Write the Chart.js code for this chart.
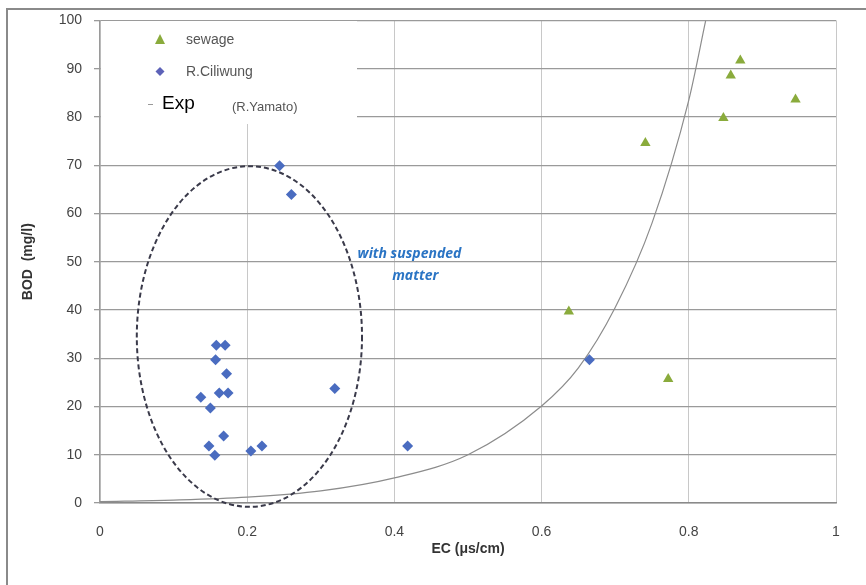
<!DOCTYPE html>
<html lang="en">
<head>
  <meta charset="UTF-8">
  <title>BOD vs EC</title>
  <script src="https://cdn.jsdelivr.net/npm/chart.js"></script>
  <style>
    body {
      margin: 0;
      background: #fff;
    }
  </style>
</head>
<body>
  <canvas id="myChart" width="866" height="585"></canvas>

  <script>
    // sewage samples
    const sewageEC = [0.637, 0.741, 0.772, 0.847, 0.857, 0.870, 0.945];
    const sewageBOD = [39.7, 74.6, 25.7, 79.8, 88.6, 91.7, 83.6];

    // R.Ciliwung samples
    const ciliwungEC = [0.244, 0.260, 0.158, 0.170, 0.157, 0.172, 0.162, 0.174, 0.137,
                        0.150, 0.168, 0.148, 0.156, 0.205, 0.220, 0.319, 0.418, 0.665];
    const ciliwungBOD = [69.9, 63.9, 32.7, 32.7, 29.7, 26.8, 22.8, 22.8, 21.9,
                         19.7, 13.9, 11.8, 9.9, 10.8, 11.8, 23.7, 11.8, 29.7];

    // Exp curve (R.Yamato)
    const expEC = [0, 0.1, 0.2, 0.3, 0.4, 0.5, 0.6, 0.65, 0.7, 0.75, 0.8, 0.823];
    const expBOD = [0.3, 0.6, 1.2, 2.5, 5.2, 10, 20.1, 28, 40.5, 58, 83.5, 100];

    const xTicks = [0, 0.2, 0.4, 0.6, 0.8, 1];
    const yTicks = [0, 10, 20, 30, 40, 50, 60, 70, 80, 90, 100];

    // dashed ellipse around the suspended-matter group (data units)
    const ellipseCenter = [0.203, 34.5];
    const ellipseRadius = [0.153, 35.3];
    const noteText = ['with suspended', 'matter'];
    const notePos = [[0.35, 51.5], [0.397, 47]];

    const toXY = (xs, ys) => xs.map((x, i) => ({ x: x, y: ys[i] }));

    const extras = {
      id: 'extras',
      beforeDraw(chart) {
        const c = chart.ctx;
        c.save();
        c.fillStyle = '#fff';
        c.fillRect(0, 0, chart.width, chart.height);
        // outer frame
        c.strokeStyle = '#8a8a8a';
        c.lineWidth = 2;
        c.beginPath();
        c.moveTo(7, chart.height);
        c.lineTo(7, 9);
        c.lineTo(chart.width, 9);
        c.stroke();
        c.restore();
      },
      beforeDatasetsDraw(chart) {
        // legend box hides the grid behind it
        const c = chart.ctx;
        c.save();
        c.fillStyle = '#fff';
        c.fillRect(101, 21, 256, 103);
        c.restore();
      },
      afterDatasetsDraw(chart) {
        const c = chart.ctx;
        const xs = chart.scales.x, ys = chart.scales.y;
        const cx = xs.getPixelForValue(ellipseCenter[0]);
        const cy = ys.getPixelForValue(ellipseCenter[1]);
        const rx = xs.getPixelForValue(ellipseCenter[0] + ellipseRadius[0]) - cx;
        const ry = cy - ys.getPixelForValue(ellipseCenter[1] + ellipseRadius[1]);
        c.save();
        c.strokeStyle = '#3a3a4a';
        c.lineWidth = 2;
        c.setLineDash([5, 3]);
        c.beginPath();
        c.ellipse(cx, cy, rx, ry, 0, 0, Math.PI * 2);
        c.stroke();
        c.setLineDash([]);

        c.fillStyle = '#2a74c4';
        c.font = 'italic bold 14px "Open Sans"';
        c.textBaseline = 'middle';
        noteText.forEach((t, i) => {
          c.fillText(t, xs.getPixelForValue(notePos[i][0]), ys.getPixelForValue(notePos[i][1]));
        });

        // legend
        c.fillStyle = '#8aab3c';
        c.beginPath();
        c.moveTo(160, 34);
        c.lineTo(165, 44);
        c.lineTo(155, 44);
        c.closePath();
        c.fill();
        c.fillStyle = '#5d62b8';
        c.beginPath();
        c.moveTo(160, 67);
        c.lineTo(164.5, 71.5);
        c.lineTo(160, 76);
        c.lineTo(155.5, 71.5);
        c.closePath();
        c.fill();
        c.strokeStyle = '#999';
        c.lineWidth = 1;
        c.beginPath();
        c.moveTo(148, 104.5);
        c.lineTo(153, 104.5);
        c.stroke();

        c.fillStyle = '#555';
        c.font = '14px "Liberation Sans"';
        c.fillText('sewage', 186, 40);
        c.fillText('R.Ciliwung', 186, 72);
        c.fillStyle = '#000';
        c.font = '19px "Liberation Sans"';
        c.fillText('Exp', 162, 104);
        c.fillStyle = '#555';
        c.font = '13px "Liberation Sans"';
        c.fillText('(R.Yamato)', 232, 107);
        c.restore();
      }
    };

    const ctx = document.getElementById('myChart').getContext('2d');
    const myChart = new Chart(ctx, {
      type: 'scatter',
      data: {
        datasets: [{
          label: 'sewage',
          data: toXY(sewageEC, sewageBOD),
          pointStyle: 'triangle',
          pointRadius: 6,
          backgroundColor: '#8aab3c',
          borderColor: '#8aab3c',
          borderWidth: 0
        },
        {
          label: 'R.Ciliwung',
          data: toXY(ciliwungEC, ciliwungBOD),
          pointStyle: 'rectRot',
          pointRadius: 5.5,
          backgroundColor: '#4a6cc0',
          borderColor: '#4a6cc0',
          borderWidth: 0
        },
        {
          label: 'Exp (R.Yamato)',
          type: 'line',
          data: toXY(expEC, expBOD),
          borderColor: '#8c8c8c',
          borderWidth: 1.2,
          pointRadius: 0,
          cubicInterpolationMode: 'monotone',
          fill: false
        }]
      },
      options: {
        responsive: false,
        animation: false,
        layout: { padding: { top: 20, right: 30 } },
        plugins: {
          legend: { display: false },
          tooltip: { enabled: false }
        },
        scales: {
          x: {
            type: 'linear',
            min: 0,
            max: 1,
            afterFit: (s) => { s.height = 82; },
            afterBuildTicks: (s) => { s.ticks = xTicks.map(v => ({ value: v })); },
            grid: { color: '#c8c8c8', lineWidth: 1, drawTicks: false },
            border: { color: '#8a8a8a', width: 1.5 },
            ticks: {
              padding: 21,
              color: '#444',
              font: { family: 'Liberation Sans', size: 14 },
              callback: (v) => String(v)
            },
            title: {
              display: true,
              text: 'EC (\u03bcs/cm)',
              color: '#333',
              font: { family: 'Liberation Sans', size: 14, weight: 'bold' },
              padding: { bottom: 27 }
            }
          },
          y: {
            min: 0,
            max: 100,
            afterFit: (s) => { s.width = 100; },
            afterBuildTicks: (s) => { s.ticks = yTicks.map(v => ({ value: v })); },
            grid: { color: '#9a9a9a', lineWidth: 1.3, tickLength: 6 },
            border: { color: '#9a9a9a', width: 1.3 },
            ticks: {
              padding: 12,
              color: '#444',
              font: { family: 'Liberation Sans', size: 14 }
            },
            title: {
              display: true,
              text: 'BOD  (mg/l)',
              color: '#333',
              font: { family: 'Liberation Sans', size: 14, weight: 'bold' },
              padding: { top: 20 }
            }
          }
        }
      },
      plugins: [extras]
    });
  </script>
</body>
</html>
